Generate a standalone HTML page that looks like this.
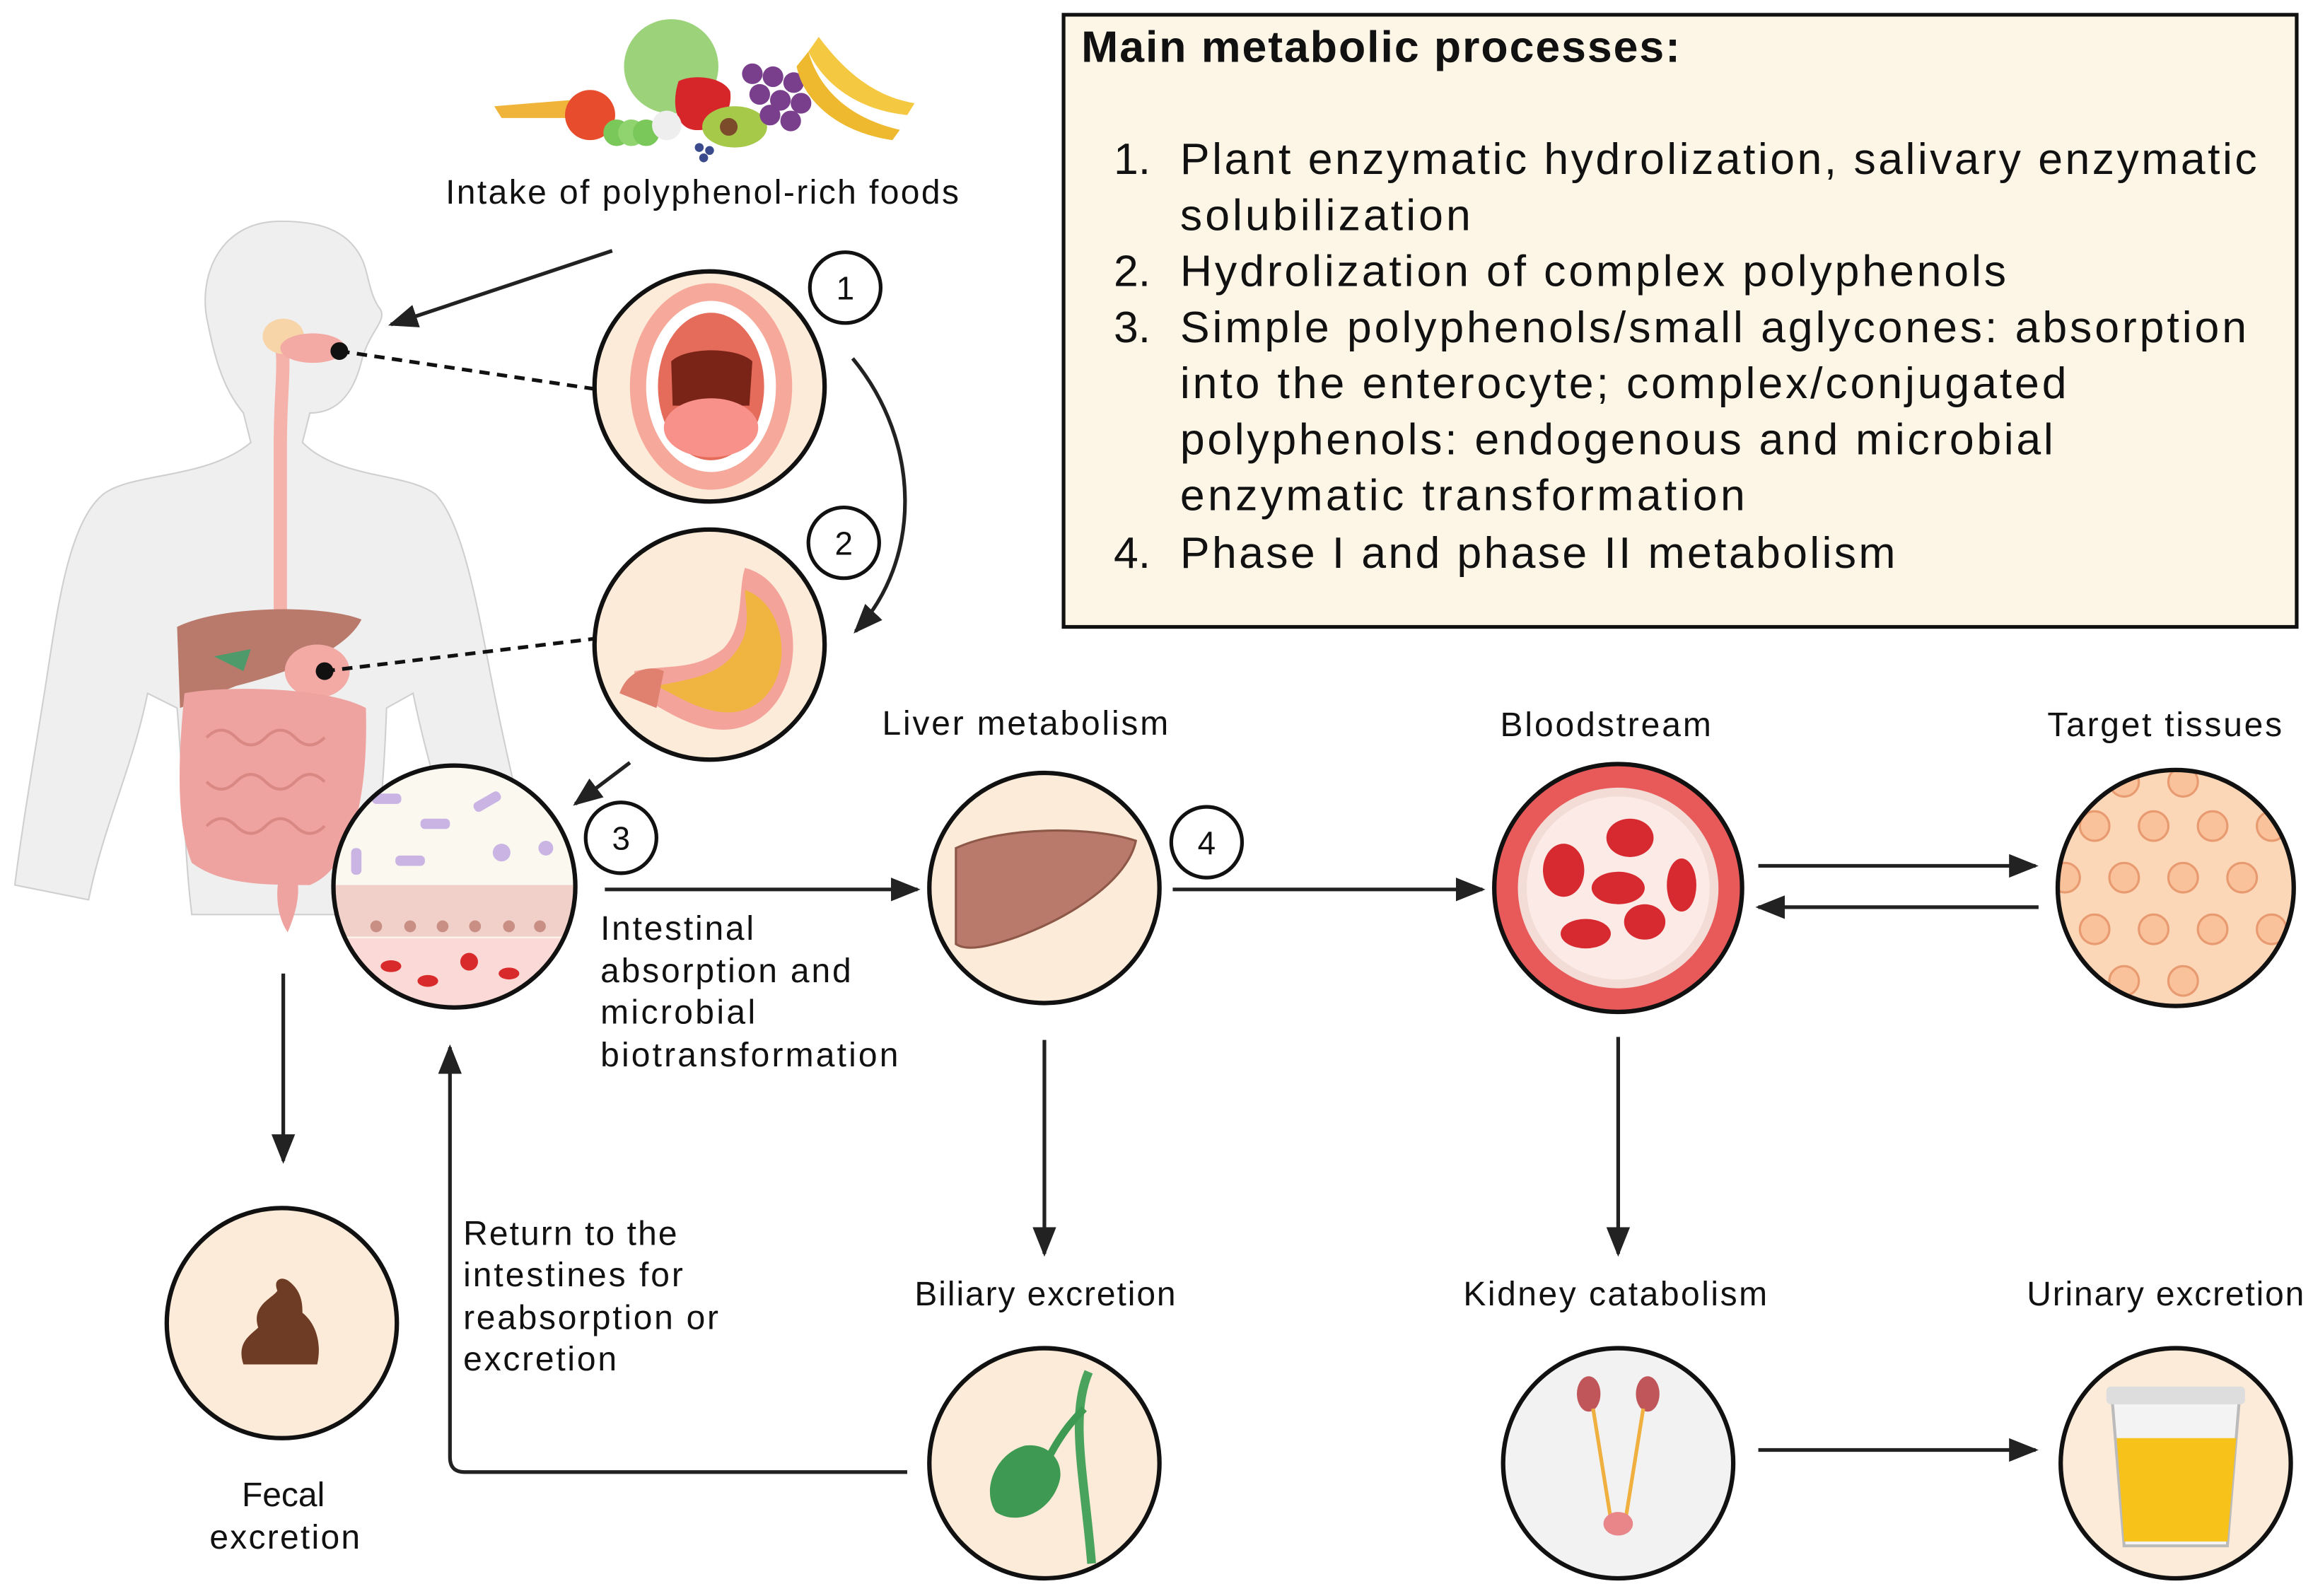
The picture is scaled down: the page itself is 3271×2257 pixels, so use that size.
<!DOCTYPE html>
<html><head><meta charset="utf-8"><style>
html,body{margin:0;padding:0;background:#fff;}
svg{display:block;}
text{font-family:"Liberation Sans",sans-serif;fill:#111;}
</style></head><body>
<svg width="3271" height="2257" viewBox="0 0 1568 1082" xmlns="http://www.w3.org/2000/svg">
<defs>
<marker id="ah2" markerWidth="20" markerHeight="16" refX="18" refY="8" orient="auto" markerUnits="userSpaceOnUse" viewBox="0 0 20 16">
<path d="M0,0 L20,8 L0,16 z" fill="#222"/></marker>
<clipPath id="c1"><circle cx="481" cy="262" r="77"/></clipPath>
<clipPath id="c2"><circle cx="481" cy="437" r="77"/></clipPath>
<clipPath id="c3"><circle cx="308" cy="601" r="81"/></clipPath>
<clipPath id="c5"><circle cx="1097" cy="602" r="83"/></clipPath>
<clipPath id="c6"><circle cx="1475" cy="602" r="79"/></clipPath>
</defs>

<g fill="#efefef" stroke="#cfcfcf" stroke-width="1">
<path d="M190,150 C150,150 135,185 140,215 C145,240 150,262 165,280 L170,300 C140,325 90,320 70,335 C45,355 38,420 30,470 C22,520 15,560 10,600 L60,610 C70,560 90,520 100,470 L120,480 C125,540 125,580 130,620 L250,620 C255,580 260,540 262,480 L280,470 C290,520 305,560 310,600 L365,600 C355,560 345,520 335,470 C325,420 315,355 295,335 C275,320 230,325 205,300 L210,280 C230,280 240,265 245,245 C250,225 262,218 258,210 C250,200 250,185 245,175 C235,155 215,150 190,150 Z"/>
</g>
<path d="M188,225 C195,240 190,260 190,300 L190,430" stroke="#f4b2aa" stroke-width="9" fill="none"/>
<ellipse cx="192" cy="228" rx="14" ry="12" fill="#f7d5a8"/>
<ellipse cx="212" cy="236" rx="22" ry="10" fill="#f3aaa5"/>
<path d="M120,425 C150,410 220,410 245,420 C235,440 200,455 160,465 L122,480 Z" fill="#b97a6b"/>
<path d="M145,445 L170,440 L165,455 Z" fill="#4f9a6a"/>
<ellipse cx="215" cy="455" rx="22" ry="18" fill="#f3aaa5"/>
<path d="M125,470 C120,520 120,560 130,585 C150,600 180,600 210,600 C235,590 250,550 248,480 C220,465 150,465 125,470 Z" fill="#eea3a0"/>
<path d="M190,590 C185,610 190,625 195,632 C200,620 205,605 200,590 Z" fill="#eea3a0"/>
<g fill="none" stroke="#d98884" stroke-width="2">
<path d="M140,500 q10,-10 20,0 t20,0 t20,0 t20,0"/><path d="M140,530 q10,10 20,0 t20,0 t20,0 t20,0"/><path d="M140,560 q10,-10 20,0 t20,0 t20,0 t20,0"/>
</g>

<g>
<path d="M335,72 L410,66 L412,80 L340,80 Z" fill="#f0b43a"/>
<circle cx="400" cy="78" r="17" fill="#e74c2c"/>
<circle cx="455" cy="45" r="32" fill="#9bd27a"/>
<path d="M460,55 C470,50 490,52 495,62 C497,78 485,90 470,88 C458,86 455,70 460,55Z" fill="#d7262a"/>
<circle cx="418" cy="90" r="9" fill="#7ac75a"/><circle cx="428" cy="90" r="9" fill="#8fd46f"/><circle cx="438" cy="90" r="9" fill="#7ac75a"/>
<circle cx="452" cy="85" r="10" fill="#eee"/>
<ellipse cx="498" cy="86" rx="22" ry="14" fill="#a7c94a"/><circle cx="494" cy="86" r="6" fill="#7b4b2a"/>
<g fill="#7a3f8c"><circle cx="510" cy="50" r="7"/><circle cx="524" cy="52" r="7"/><circle cx="538" cy="56" r="7"/><circle cx="515" cy="64" r="7"/><circle cx="529" cy="68" r="7"/><circle cx="543" cy="70" r="7"/><circle cx="522" cy="78" r="7"/><circle cx="536" cy="82" r="7"/></g>
<path d="M555,25 C570,45 590,65 620,70 L615,78 C585,75 560,60 548,35 Z" fill="#f5c842"/>
<path d="M548,35 C555,60 575,80 610,88 L605,95 C570,90 545,70 540,45 Z" fill="#efb92f"/>
<circle cx="474" cy="100" r="3" fill="#3a4a8c"/><circle cx="481" cy="102" r="3" fill="#3a4a8c"/><circle cx="477" cy="107" r="3" fill="#3a4a8c"/>
</g>
<text x="302" y="138" font-size="23" textLength="348" lengthAdjust="spacing">Intake of polyphenol-rich foods</text>

<rect x="721" y="10" width="836" height="415" fill="#fdf5e6" stroke="#111" stroke-width="2.5"/>
<text x="733" y="42" font-size="30" font-weight="bold" textLength="406" lengthAdjust="spacing">Main metabolic processes:</text>
<g font-size="30" lengthAdjust="spacing">
<text x="755" y="118">1.</text><text x="800" y="118" textLength="730" lengthAdjust="spacing">Plant enzymatic hydrolization, salivary enzymatic</text>
<text x="800" y="156" textLength="197" lengthAdjust="spacing">solubilization</text>
<text x="755" y="194">2.</text><text x="800" y="194" textLength="560" lengthAdjust="spacing">Hydrolization of complex polyphenols</text>
<text x="755" y="232">3.</text><text x="800" y="232" textLength="723" lengthAdjust="spacing">Simple polyphenols/small aglycones: absorption</text>
<text x="800" y="270" textLength="601" lengthAdjust="spacing">into the enterocyte; complex/conjugated</text>
<text x="800" y="308" textLength="592" lengthAdjust="spacing">polyphenols: endogenous and microbial</text>
<text x="800" y="346" textLength="383" lengthAdjust="spacing">enzymatic transformation</text>
<text x="755" y="385">4.</text><text x="800" y="385" textLength="485" lengthAdjust="spacing">Phase I and phase II metabolism</text>
</g>

<circle cx="481" cy="262" r="78" fill="#fdebd9"/>
<g clip-path="url(#c1)">
<ellipse cx="482" cy="262" rx="55" ry="70" fill="#f6a99b"/>
<ellipse cx="482" cy="262" rx="44" ry="58" fill="#fff"/>
<ellipse cx="482" cy="262" rx="36" ry="50" fill="#e56b5a"/>
<path d="M455,245 C465,235 500,235 510,245 L508,275 L456,275 Z" fill="#7a2418"/>
<ellipse cx="482" cy="290" rx="32" ry="20" fill="#f7918a"/>
</g>
<circle cx="481" cy="262" r="78" fill="none" stroke="#111" stroke-width="3"/>
<circle cx="481" cy="437" r="78" fill="#fdebd9"/>
<g clip-path="url(#c2)">
<path d="M505,385 C545,395 550,470 510,490 C480,505 450,480 430,470 L430,455 C455,450 470,455 490,440 C505,425 500,400 505,385Z" fill="#f4a39a"/>
<path d="M505,400 C535,410 540,465 508,480 C485,490 460,472 445,465 C470,460 488,458 500,440 C510,425 505,410 505,400Z" fill="#f0b540"/>
<path d="M420,470 C425,455 440,450 450,455 L445,480 Z" fill="#e0806f"/>
</g>
<circle cx="481" cy="437" r="78" fill="none" stroke="#111" stroke-width="3"/>
<circle cx="308" cy="601" r="82" fill="#fbf8f0"/>
<g clip-path="url(#c3)">
<rect x="220" y="600" width="180" height="35" fill="#f0d0c8"/>
<g fill="#c98f85"><circle cx="255" cy="628" r="4"/><circle cx="278" cy="628" r="4"/><circle cx="300" cy="628" r="4"/><circle cx="322" cy="628" r="4"/><circle cx="345" cy="628" r="4"/><circle cx="366" cy="628" r="4"/></g>
<rect x="220" y="636" width="180" height="50" fill="#fbd9d6"/>
<g fill="#d82a2a"><ellipse cx="265" cy="655" rx="7" ry="4"/><ellipse cx="290" cy="665" rx="7" ry="4"/><circle cx="318" cy="652" r="6"/><ellipse cx="345" cy="660" rx="7" ry="4"/></g>
<g fill="#c9b4e4"><rect x="252" y="538" width="20" height="7" rx="3"/><rect x="285" y="555" width="20" height="7" rx="3"/><rect x="320" y="540" width="20" height="7" rx="3" transform="rotate(-30 330 543)"/><rect x="268" y="580" width="20" height="7" rx="3"/><rect x="238" y="575" width="7" height="18" rx="3"/><circle cx="340" cy="578" r="6"/><circle cx="370" cy="575" r="5"/></g>
</g>
<circle cx="308" cy="601" r="82" fill="none" stroke="#111" stroke-width="3"/>
<circle cx="708" cy="602" r="78" fill="#fdebd9" stroke="#111" stroke-width="3"/>
<path d="M648,575 C680,560 740,560 770,570 C765,595 730,620 690,635 C670,642 655,645 648,640 Z" fill="#b97a6b" stroke="#8e5848" stroke-width="1.5"/>
<circle cx="1097" cy="602" r="84" fill="#e85a5a"/>
<g clip-path="url(#c5)">
<circle cx="1097" cy="602" r="68" fill="#f4dcd6"/>
<circle cx="1097" cy="602" r="62" fill="#fbeae6"/>
<g fill="#d72a30"><ellipse cx="1060" cy="590" rx="14" ry="18"/><ellipse cx="1105" cy="568" rx="16" ry="13"/><ellipse cx="1097" cy="602" rx="18" ry="11"/><ellipse cx="1140" cy="600" rx="10" ry="18"/><ellipse cx="1075" cy="633" rx="17" ry="10"/><ellipse cx="1115" cy="625" rx="14" ry="12"/></g>
</g>
<circle cx="1097" cy="602" r="84" fill="none" stroke="#111" stroke-width="3"/>
<circle cx="1475" cy="602" r="80" fill="#fcd7b7"/>
<g clip-path="url(#c6)" fill="#f9c29b" stroke="#e89a70" stroke-width="1.5">
<circle cx="1420" cy="560" r="10"/><circle cx="1460" cy="560" r="10"/><circle cx="1500" cy="560" r="10"/><circle cx="1540" cy="560" r="10"/>
<circle cx="1400" cy="595" r="10"/><circle cx="1440" cy="595" r="10"/><circle cx="1480" cy="595" r="10"/><circle cx="1520" cy="595" r="10"/>
<circle cx="1420" cy="630" r="10"/><circle cx="1460" cy="630" r="10"/><circle cx="1500" cy="630" r="10"/><circle cx="1540" cy="630" r="10"/>
<circle cx="1440" cy="665" r="10"/><circle cx="1480" cy="665" r="10"/><circle cx="1440" cy="530" r="10"/><circle cx="1480" cy="530" r="10"/>
</g>
<circle cx="1475" cy="602" r="80" fill="none" stroke="#111" stroke-width="3"/>
<circle cx="191" cy="897" r="78" fill="#fdebd9" stroke="#111" stroke-width="3"/>
<path d="M165,925 C160,910 170,905 175,900 C170,885 185,880 188,875 C185,868 190,865 195,868 C205,875 205,885 205,890 C215,898 218,912 215,925 Z" fill="#6e3b24"/>
<circle cx="708" cy="992" r="78" fill="#fdebd9" stroke="#111" stroke-width="3"/>
<path d="M738,930 C725,960 735,1000 740,1060" stroke="#4aa35c" stroke-width="6" fill="none"/>
<path d="M695,980 C675,985 665,1010 675,1025 C690,1035 712,1025 718,1005 C722,992 712,978 695,980Z" fill="#3e9a52"/>
<path d="M710,990 C720,970 730,960 735,955" stroke="#3e9a52" stroke-width="5" fill="none"/>
<circle cx="1097" cy="992" r="78" fill="#f2f2f2" stroke="#111" stroke-width="3"/>
<ellipse cx="1077" cy="945" rx="8" ry="12" fill="#c0565a"/><ellipse cx="1117" cy="945" rx="8" ry="12" fill="#c0565a"/>
<path d="M1080,955 L1092,1030 M1114,955 L1102,1030" stroke="#f0b040" stroke-width="2.5"/>
<ellipse cx="1097" cy="1033" rx="10" ry="8" fill="#e8868a"/>
<circle cx="1475" cy="992" r="78" fill="#fdebd9" stroke="#111" stroke-width="3"/>
<path d="M1432,950 L1518,950 L1510,1048 L1440,1048 Z" fill="#f3f3f3" stroke="#bbb" stroke-width="2"/>
<path d="M1435,975 L1516,975 L1510,1045 L1440,1045 Z" fill="#f7c21a"/>
<rect x="1428" y="940" width="94" height="12" rx="3" fill="#ddd"/>

<g fill="#fff" stroke="#111" stroke-width="2.5">
<circle cx="573" cy="195" r="24"/><circle cx="572" cy="368" r="24"/><circle cx="421" cy="568" r="24"/><circle cx="818" cy="571" r="24"/>
</g>
<g font-size="22" text-anchor="middle">
<text x="573" y="203">1</text><text x="572" y="376">2</text><text x="421" y="576">3</text><text x="818" y="579">4</text>
</g>

<circle cx="230" cy="238" r="6" fill="#111"/><circle cx="220" cy="455" r="6" fill="#111"/>
<path d="M230,238 L405,264" stroke="#111" stroke-width="2.5" stroke-dasharray="7,5"/>
<path d="M220,455 L403,433" stroke="#111" stroke-width="2.5" stroke-dasharray="7,5"/>

<g stroke="#222" stroke-width="2.5" fill="none" marker-end="url(#ah2)">
<path d="M415,170 L265,220"/>
<path d="M578,243 C625,300 625,380 580,428"/>
<path d="M427,517 L390,545"/>
<path d="M410,603 L622,603"/>
<path d="M795,603 L1005,603"/>
<path d="M1192,587 L1380,587"/>
<path d="M1382,615 L1192,615"/>
<path d="M708,705 L708,850"/>
<path d="M1097,703 L1097,850"/>
<path d="M1192,983 L1380,983"/>
<path d="M192,660 L192,787"/>
<path d="M615,998 L315,998 Q305,998 305,988 L305,710"/>
</g>

<g font-size="23">
<text x="598" y="498" textLength="194" lengthAdjust="spacing">Liver metabolism</text>
<text x="1017" y="499" textLength="143" lengthAdjust="spacing">Bloodstream</text>
<text x="1388" y="499" textLength="159" lengthAdjust="spacing">Target tissues</text>
<text x="620" y="885" textLength="177" lengthAdjust="spacing">Biliary excretion</text>
<text x="992" y="885" textLength="206" lengthAdjust="spacing">Kidney catabolism</text>
<text x="1374" y="885" textLength="188" lengthAdjust="spacing">Urinary excretion</text>
<text x="192" y="1021" text-anchor="middle">Fecal</text>
<text x="142" y="1050" textLength="102" lengthAdjust="spacing">excretion</text>
<text x="407" y="637" textLength="104" lengthAdjust="spacing">Intestinal</text>
<text x="407" y="666" textLength="170" lengthAdjust="spacing">absorption and</text>
<text x="407" y="694" textLength="105" lengthAdjust="spacing">microbial</text>
<text x="407" y="723" textLength="202" lengthAdjust="spacing">biotransformation</text>
<text x="314" y="844" textLength="145" lengthAdjust="spacing">Return to the</text>
<text x="314" y="872" textLength="149" lengthAdjust="spacing">intestines for</text>
<text x="314" y="901" textLength="173" lengthAdjust="spacing">reabsorption or</text>
<text x="314" y="929" textLength="104" lengthAdjust="spacing">excretion</text>
</g>
</svg>
</body></html>
